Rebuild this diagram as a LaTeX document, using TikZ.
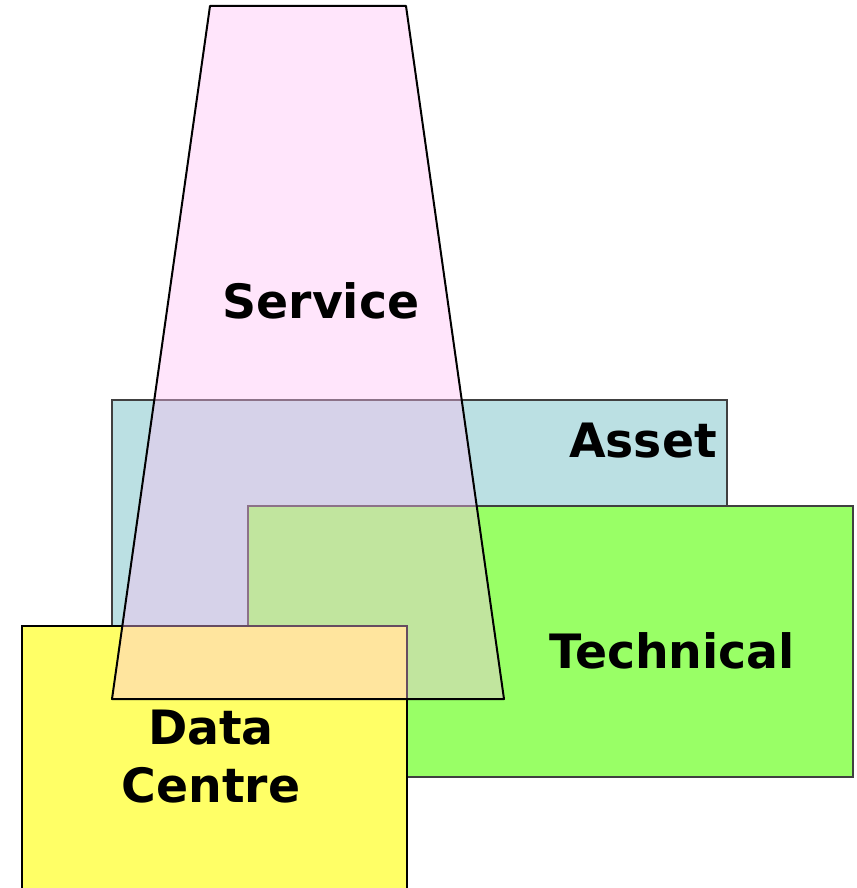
\documentclass[tikz,border=0pt]{standalone}
\usepackage{fontspec}
\setmainfont{DejaVu Sans}
\definecolor{assetcolor}{HTML}{BBE0E3}
\definecolor{techcolor}{HTML}{99FF66}
\definecolor{dccolor}{HTML}{FFFF66}
\definecolor{servicecolor}{HTML}{FFBEF4}
\tikzstyle{area} = [
    draw=black!75,
    line width=1.1pt
    ]
\tikzstyle{areaname} = [
    font=\fontsize{35.5}{43.5}\selectfont\bfseries,
    inner sep=0pt
    ]

\begin{document}
\begin{tikzpicture}[x=0.75pt, y=-0.75pt]
\useasboundingbox (0,0) rectangle (856,888);
% back to front: asset, technical, data centre
\draw[area, fill=assetcolor] (112,400) rectangle (727,700);
\draw[area, fill=techcolor] (248,506) rectangle (853,777);
\draw[area, draw=black, fill=dccolor] (22,626) rectangle (407,900);
% service lies over all of them, see-through
\draw[line width=1.5pt, line join=round, fill=servicecolor, fill opacity=0.4]
    (210,6) -- (406,6) -- (504,699) -- (112,699) -- cycle;

\node[areaname, anchor=base] (service) at (321,318) {Service};
\node[areaname, anchor=base] (asset) at (643,457) {Asset};
\node[areaname, anchor=base] (technical) at (672,668) {Technical};
\node[areaname, align=center] (datacentre) at (211,757) {Data\\Centre};
\end{tikzpicture}
\end{document}
